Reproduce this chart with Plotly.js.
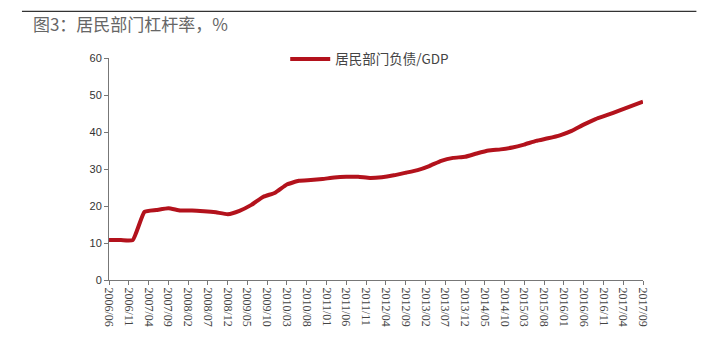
<!DOCTYPE html>
<html><head><meta charset="utf-8">
<script src="https://cdn.plot.ly/plotly-3.0.1.min.js"></script>
<style>html,body{margin:0;padding:0;background:#fff;}#chart{width:701px;height:362px;}</style>
</head><body><div id="chart"></div>
<script>
// Quarterly observation dates
const dates = ["2006-06","2006-09","2006-12","2007-03","2007-06","2007-09","2007-12","2008-03","2008-06","2008-09","2008-12","2009-03","2009-06","2009-09","2009-12","2010-03","2010-06","2010-09","2010-12","2011-03","2011-06","2011-09","2011-12","2012-03","2012-06","2012-09","2012-12","2013-03","2013-06","2013-09","2013-12","2014-03","2014-06","2014-09","2014-12","2015-03","2015-06","2015-09","2015-12","2016-03","2016-06","2016-09","2016-12","2017-03","2017-06","2017-09"];
// 居民部门负债/GDP (%)
const leverage = [10.8,10.8,10.8,18.4,18.9,19.4,18.8,18.8,18.6,18.3,17.8,18.7,20.3,22.5,23.6,25.8,26.8,27.0,27.3,27.7,27.9,27.9,27.6,27.8,28.3,29.0,29.7,30.8,32.2,33.0,33.3,34.2,35.0,35.3,35.8,36.6,37.6,38.3,39.1,40.3,42.0,43.5,44.6,45.8,47.0,48.2];
const tickDates = ["2006-06","2006-11","2007-04","2007-09","2008-02","2008-07","2008-12","2009-05","2009-10","2010-03","2010-08","2011-01","2011-06","2011-11","2012-04","2012-09","2013-02","2013-07","2013-12","2014-05","2014-10","2015-03","2015-08","2016-01","2016-06","2016-11","2017-04","2017-09"];
const tickLabels = ["2006/06","2006/11","2007/04","2007/09","2008/02","2008/07","2008/12","2009/05","2009/10","2010/03","2010/08","2011/01","2011/06","2011/11","2012/04","2012/09","2013/02","2013/07","2013/12","2014/05","2014/10","2015/03","2015/08","2016/01","2016/06","2016/11","2017/04","2017/09"];
const yTicks = [0,10,20,30,40,50,60];
const seriesName = "居民部门负债/GDP";
const titleText = "图3：居民部门杠杆率，%";

const trace = {
  x: dates, y: leverage, type: "scatter", mode: "lines", name: seriesName,
  line: {color: "#b3121c", width: 4, shape: "spline", smoothing: 0.4}
};
const layout = {
  width: 701, height: 362,
  margin: {l: 109, r: 58, t: 58, b: 82},
  paper_bgcolor: "#fff", plot_bgcolor: "#fff",
  showlegend: true,
  legend: {x: 0.33, y: 0.995, xanchor: "left", yanchor: "middle", orientation: "h", itemwidth: 40,
    font: {family: "Noto Sans CJK SC, serif", size: 13.5, color: "#444"}, bgcolor: "rgba(0,0,0,0)"},
  xaxis: {
    type: "date", range: ["2006-06-01","2017-09-01"],
    tickmode: "array", tickvals: tickDates, ticktext: tickLabels, tickangle: 90,
    ticks: "outside", ticklen: 4, tickcolor: "#777", showline: true, linecolor: "#777", linewidth: 1,
    showgrid: false, zeroline: false,
    tickfont: {family: "Liberation Serif, serif", size: 12, color: "#444"}
  },
  yaxis: {
    range: [0, 60], tickmode: "array", tickvals: yTicks,
    ticks: "outside", ticklen: 4, tickcolor: "#777", showline: true, linecolor: "#777", linewidth: 1,
    showgrid: false, zeroline: false,
    tickfont: {family: "Liberation Sans, Arial, sans-serif", size: 11, color: "#333"}
  },
  title: {text: titleText, x: 0.047, xanchor: "left", y: 0.93, yanchor: "middle",
    font: {family: "Noto Sans CJK SC, serif", size: 17, color: "#666"}},
  shapes: [{type: "line", xref: "paper", yref: "paper", x0: -0.163, x1: 1.1, y0: 1.21, y1: 1.21,
    line: {color: "#333", width: 1.2}}]
};
Plotly.newPlot("chart", [trace], layout, {displayModeBar: false, staticPlot: true});
</script></body></html>
